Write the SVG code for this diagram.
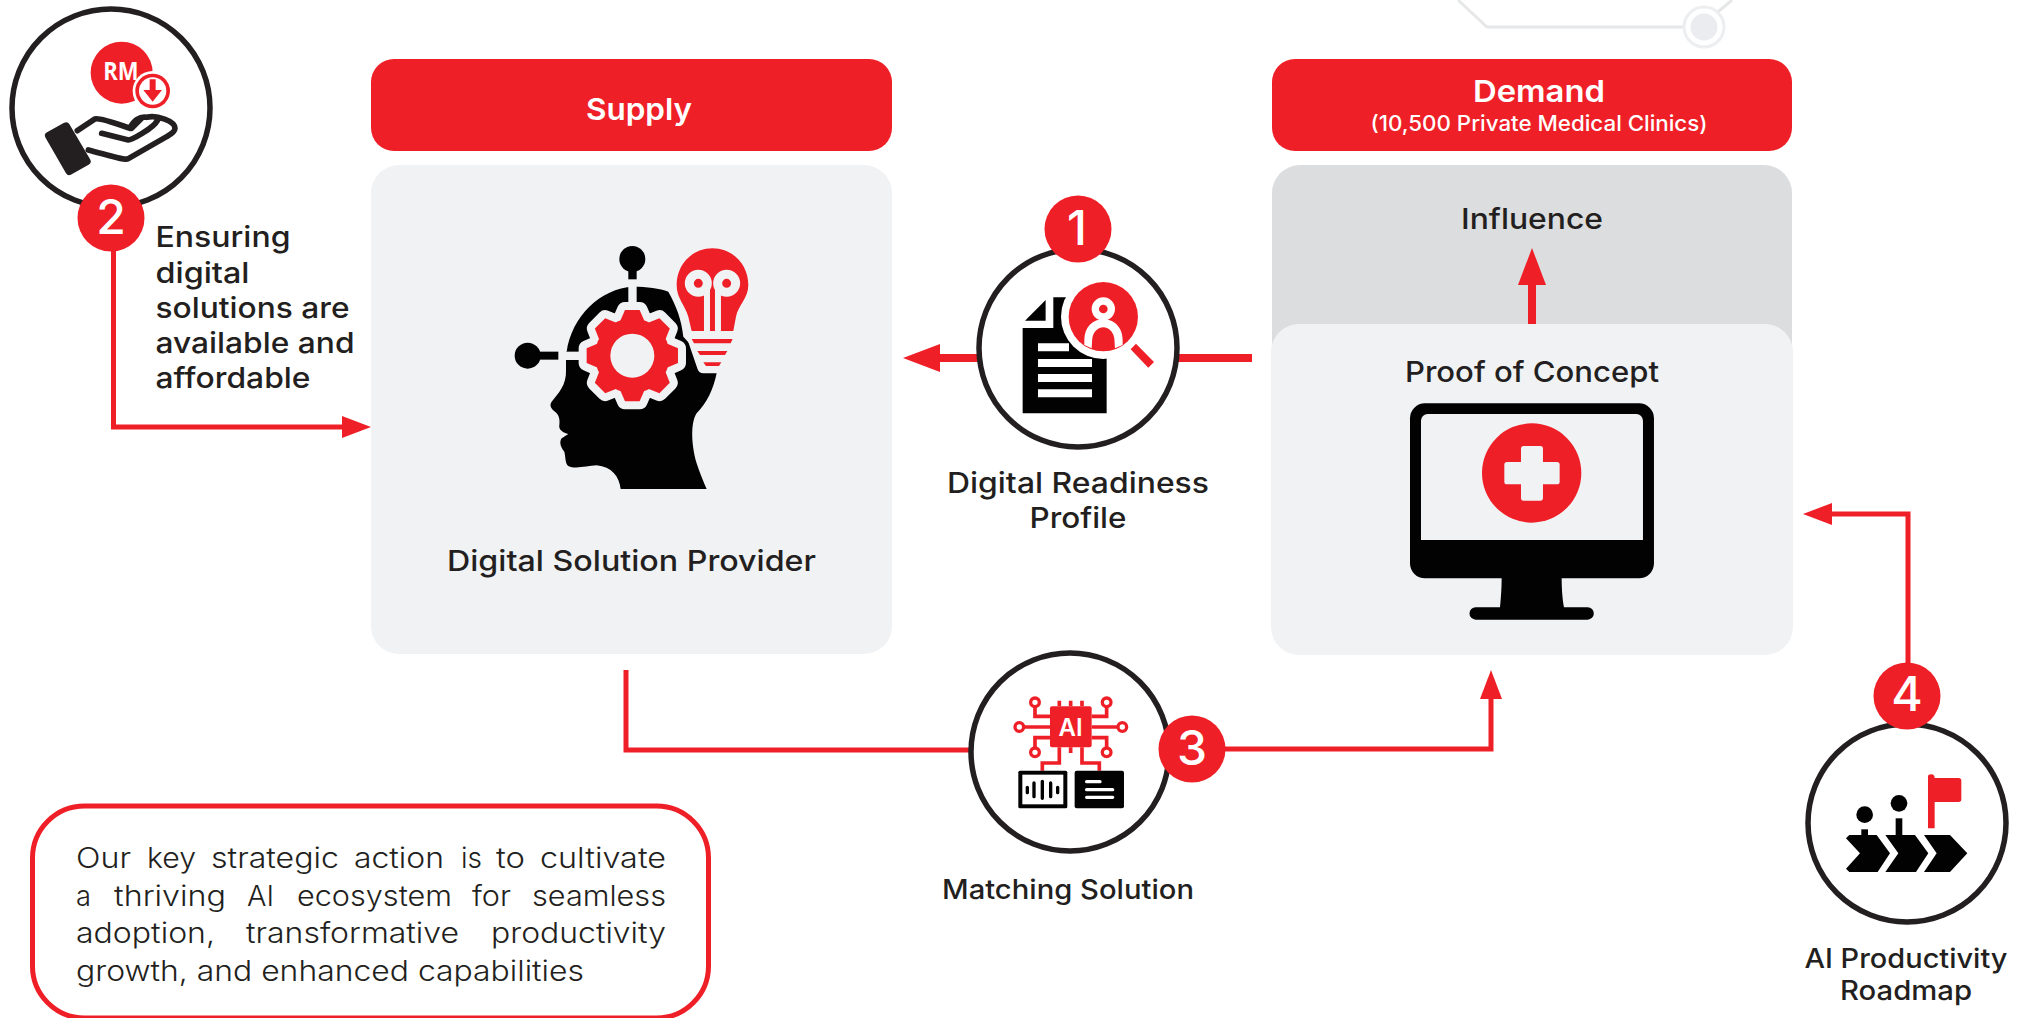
<svg xmlns="http://www.w3.org/2000/svg" xmlns:xlink="http://www.w3.org/1999/xlink" width="2027" height="1018" viewBox="0 0 2027 1018">
<style>
text{font-family:Inter,"Liberation Sans",sans-serif;fill:#231f20;font-weight:500;text-anchor:middle}
.h{fill:#fff;font-weight:600;font-size:30px}
.sub{fill:#fff;font-size:21px;font-weight:500}
.l{font-size:29px}
.m{font-size:27px}
.left{text-anchor:start}
.body{font-weight:300;font-size:28px;text-anchor:start}
.badge{fill:#ef1f27}
.num{fill:#fff;font-size:48px;font-weight:500}
.ring{fill:#fff;stroke:#231f20;stroke-width:5.5}
.r{fill:#ef1f27}.k{fill:#020202}.c{fill:#f1f2f4}.w{fill:#fff}
.conn{fill:none;stroke:#ef1f27;stroke-linejoin:miter}
.deco{fill:none;stroke:#e6e7e9;stroke-width:3}
.cir{fill:none;stroke:#ef1f27;stroke-width:11}
</style>
<defs>
<marker id="ah" markerUnits="userSpaceOnUse" markerWidth="30" markerHeight="24" refX="1" refY="11" orient="auto" viewBox="0 0 30 22"><path d="M0 0L29 11L0 22Z" fill="#ef1f27"/></marker>
<marker id="ahb" markerUnits="userSpaceOnUse" markerWidth="38" markerHeight="28" refX="1" refY="14" orient="auto" viewBox="0 0 38 28"><path d="M0 0L37 14L0 28Z" fill="#ef1f27"/></marker>
<g id="gear"><circle r="112"/><path id="t" d="M-22-137H22L38-100H-38Z"/><use xlink:href="#t" transform="rotate(45)"/><use xlink:href="#t" transform="rotate(90)"/><use xlink:href="#t" transform="rotate(135)"/><use xlink:href="#t" transform="rotate(180)"/><use xlink:href="#t" transform="rotate(225)"/><use xlink:href="#t" transform="rotate(270)"/><use xlink:href="#t" transform="rotate(315)"/></g>
</defs>
<rect width="2027" height="1018" fill="#fff"/>

<g id="decoration">
<path class="deco" d="M1458 0L1487 27H1684M1713 16L1732 0"/>
<circle cx="1704" cy="27" r="20" fill="#fff" stroke="#eceef0" stroke-width="3"/>
<circle cx="1704" cy="27" r="13.500" fill="#eaecef"/>
</g>

<g id="supply-panel">
<rect x="371" y="59" width="521" height="92" rx="23" class="r"/>
<text class="h" x="639" y="120" textLength="106" lengthAdjust="spacingAndGlyphs">Supply</text>
<rect x="371" y="165" width="521" height="489" rx="28" class="c"/>
<text class="l" x="631.500" y="571" textLength="369" lengthAdjust="spacingAndGlyphs">Digital Solution Provider</text>
</g>

<g id="demand-panel">
<rect x="1272" y="59" width="520" height="92" rx="23" class="r"/>
<text class="h" x="1539" y="102" textLength="132" lengthAdjust="spacingAndGlyphs">Demand</text>
<text class="sub" x="1539" y="131" textLength="337" lengthAdjust="spacingAndGlyphs">(10,500 Private Medical Clinics)</text>
<rect x="1272" y="165" width="520" height="300" rx="28" fill="#dcddde"/>
<text class="l" x="1532" y="229" textLength="142" lengthAdjust="spacingAndGlyphs">Influence</text>
<rect x="1271" y="324" width="522" height="331" rx="28" class="c"/>
<text class="l" x="1532" y="382" textLength="254" lengthAdjust="spacingAndGlyphs">Proof of Concept</text>
</g>

<g id="connectors" class="conn">
<path stroke-width="5" marker-end="url(#ah)" d="M113.500 250V427H343"/>
<path stroke-width="8" marker-end="url(#ahb)" d="M1252 358H939"/>
<path stroke-width="8" marker-end="url(#ahb)" d="M1532 324V284"/>
<path stroke-width="5" d="M626 670V750H970"/>
<path stroke-width="5" marker-end="url(#ah)" d="M1225 749H1491V698"/>
<path stroke-width="5" marker-end="url(#ah)" d="M1908 664V514H1831"/>
</g>

<g id="node-provider-icon" transform="translate(500 230) scale(.3333)">
<path class="k" d="M200 365C215 260 300 175 400 170C440 170 480 175 505 185C530 230 545 270 550 320L650 430C640 480 620 520 590 550C570 580 575 650 590 700C600 730 610 755 620 777H362C358 740 335 710 290 706C260 708 225 718 205 708C195 700 197 680 193 665C180 650 178 635 185 625C200 615 205 612 205 612C190 608 175 600 178 585C180 570 178 555 165 545C152 535 148 525 155 515C175 490 200 465 198 420V365Z"/>
<rect class="c" x="385" y="150" width="25" height="95"/>
<rect class="c" x="190" y="365" width="55" height="25"/>
<circle class="k" cx="397" cy="87" r="39"/><rect class="k" x="385" y="110" width="25" height="38"/>
<circle class="k" cx="83" cy="377" r="39"/><rect class="k" x="110" y="365" width="65" height="24"/>
<use xlink:href="#gear" x="397" y="377" class="c" stroke="#f1f2f4" stroke-width="48" stroke-linejoin="round"/>
<use xlink:href="#gear" x="397" y="377" class="r"/>
<circle class="c" cx="397" cy="377" r="66"/>
<path class="c" stroke="#f1f2f4" stroke-width="36" stroke-linejoin="round" d="M637 55C575 55 530 105 530 165C530 205 555 225 565 260L575 310L610 412H665L700 310L708 260C715 225 745 205 745 165C745 105 700 55 637 55Z"/>
<path class="r" d="M637 55C575 55 530 105 530 165C530 205 555 225 565 260L575 303H700L708 260C715 225 745 205 745 165C745 105 700 55 637 55Z"/>
<circle class="r" cx="595" cy="160" r="27" stroke="#f1f2f4" stroke-width="27"/>
<circle class="r" cx="680" cy="160" r="27" stroke="#f1f2f4" stroke-width="27"/>
<rect class="c" x="612" y="170" width="18" height="133"/><rect class="c" x="645" y="170" width="18" height="133"/>
<path class="r" d="M575 327H698L692 340H582ZM592 363H682L675 375H600ZM610 397H664L657 408H618Z"/>
</g>

<g id="node-monitor-icon" transform="translate(1380 390) scale(.3333)">
<rect class="k" x="90" y="40" width="732" height="525" rx="45"/>
<path class="c" d="M143 72H769A20 20 0 0 1 789 92V450H123V92A20 20 0 0 1 143 72Z"/>
<path class="k" d="M365 560C365 600 362 630 360 652H287A18.500 18.500 0 0 0 287 689H623A18.500 18.500 0 0 0 623 652H552C548 630 545 600 545 560Z"/>
<circle class="r" cx="455" cy="249" r="149"/>
<path class="c" d="M423 216V176Q423 168 431 168H481Q489 168 489 176V216H531Q539 216 539 224V275Q539 283 531 283H489V324Q489 332 481 332H431Q423 332 423 324V283H381Q373 283 373 275V224Q373 216 381 216Z"/>
</g>

<g id="node-2">
<circle class="ring" cx="111" cy="108" r="99"/>
<g transform="scale(.3333)">
<circle class="r" cx="365" cy="218" r="93"/>
<text x="363" y="240" style="fill:#fff;font-family:'Open Sans','Liberation Sans',sans-serif;font-weight:700;font-size:74px" textLength="106" lengthAdjust="spacingAndGlyphs">RM</text>
<circle class="w" cx="458" cy="273" r="60"/><circle class="r" cx="458" cy="273" r="52"/><circle class="w" cx="458" cy="273" r="41"/>
<path fill="#ef1f27" d="M449 238H467V270H486L458 305L430 270H449Z"/>
<path fill="#231f20" stroke="#231f20" stroke-width="24" stroke-linejoin="round" d="M147 407L198 379L260 484L208 513Z"/>
<path fill="none" stroke="#231f20" stroke-width="17" stroke-linejoin="round" stroke-linecap="round" d="M232 392L285 357C300 352 360 375 390 385C400 362 420 348 440 352C470 345 525 362 525 385C525 395 515 402 500 410L385 476C375 482 340 470 265 450M305 400L385 420C395 420 460 385 472 362M395 385L425 355"/>
</g>
<circle class="badge" cx="111" cy="218" r="33.500"/>
<text class="num" x="111" y="234">2</text>
<g>
<text class="l left" x="155.500" y="247" textLength="135" lengthAdjust="spacingAndGlyphs">Ensuring</text>
<text class="l left" x="155.500" y="283" textLength="94" lengthAdjust="spacingAndGlyphs">digital</text>
<text class="l left" x="155.500" y="318" textLength="194" lengthAdjust="spacingAndGlyphs">solutions are</text>
<text class="l left" x="155.500" y="353" textLength="199" lengthAdjust="spacingAndGlyphs">available and</text>
<text class="l left" x="155.500" y="388" textLength="155" lengthAdjust="spacingAndGlyphs">affordable</text>
</g>
</g>

<g id="node-1">
<circle class="ring" cx="1078" cy="348" r="99"/>
<g transform="translate(900 180) scale(.3333)">
<path class="k" d="M368 444H460V352H620V700H368Z"/>
<path class="k" d="M437 360V422H375Z"/>
<circle class="w" cx="610" cy="410" r="127"/>
<path class="w" d="M622 352H500V280H640V400H622Z"/>
<path class="w" d="M414 490h93v24h-93zM414 537h162v24h-162zM414 582h162v24h-162zM414 628h162v24h-162z"/>
<circle class="r" cx="610" cy="410" r="104"/>
<path class="r" d="M708 491L762 546L745 563L692 508Z"/>
<circle class="r" cx="610" cy="387" r="24" stroke="#fff" stroke-width="22"/>
<path class="w" d="M553 495V480C553 440 580 418 610 418C640 418 668 440 668 480V495L645 505L643 475C640 455 625 442 610 442C595 442 580 455 577 475L575 505Z"/>
</g>
<circle class="badge" cx="1078" cy="229" r="33.500"/>
<text class="num" x="1077" y="245">1</text>
<text class="l" x="1078" y="493" textLength="262" lengthAdjust="spacingAndGlyphs">Digital Readiness</text>
<text class="l" x="1078" y="528" textLength="97" lengthAdjust="spacingAndGlyphs">Profile</text>
</g>

<g id="node-3">
<circle class="ring" cx="1070" cy="752" r="99"/>
<g transform="translate(950 639) scale(.3333)">
<path class="cir" d="M255 200V232H300M208 264H300M255 328V296H300M470 200V232H425M517 264H425M470 328V296H425M328 325V372H277V395M396 325V372H448V395M328 185V202M362 185V202M396 185V202M362 325V342"/>
<circle cx="255" cy="190" r="13" fill="#fff" stroke="#ef1f27" stroke-width="10"/>
<circle cx="208" cy="264" r="13" fill="#fff" stroke="#ef1f27" stroke-width="10"/>
<circle cx="255" cy="340" r="13" fill="#fff" stroke="#ef1f27" stroke-width="10"/>
<circle cx="470" cy="190" r="13" fill="#fff" stroke="#ef1f27" stroke-width="10"/>
<circle cx="517" cy="264" r="13" fill="#fff" stroke="#ef1f27" stroke-width="10"/>
<circle cx="470" cy="340" r="13" fill="#fff" stroke="#ef1f27" stroke-width="10"/>
<rect class="r" x="300" y="202" width="125" height="123" rx="6"/>
<text x="362" y="290" style="fill:#fff;font-size:72px;font-weight:600">AI</text>
<rect class="k" x="205" y="395" width="147" height="113" rx="5"/>
<rect class="w" x="217" y="407" width="123" height="89"/>
<path fill="none" stroke="#020202" stroke-width="10" stroke-linecap="round" d="M232 445V461M252 432V473M277 427V478M302 432V473M323 445V461"/>
<rect class="k" x="374" y="395" width="148" height="113" rx="6"/>
<path fill="none" stroke="#fff" stroke-width="10" stroke-linecap="round" d="M410 428H450M410 452H488M410 475H488"/>
</g>
<circle class="badge" cx="1192" cy="749" r="33.500"/>
<text class="num" x="1192" y="765">3</text>
<text class="m" x="1068" y="899" textLength="252" lengthAdjust="spacingAndGlyphs">Matching Solution</text>
</g>

<g id="node-4">
<circle class="ring" cx="1907" cy="823" r="99"/>
<g transform="translate(1780 650) scale(.3333)">
<circle class="k" cx="254" cy="494" r="25"/><circle class="k" cx="357" cy="460" r="25"/>
<rect class="k" x="244" y="538" width="20" height="20"/><rect class="k" x="347" y="505" width="20" height="53"/>
<path class="r" d="M444 380Q444 373 454 373Q464 373 464 384H536Q544 384 544 392V448Q544 456 536 456H464V535H444Z"/>
<path class="k" d="M198 565L208 555H290L330 610L293 666H208L198 656L240 610ZM316 555H405L445 610L408 666H316L355 610ZM432 555H510L562 610L510 666H432L470 610Z"/>
</g>
<circle class="badge" cx="1907" cy="696" r="33.500"/>
<text class="num" x="1907" y="711">4</text>
<text class="m" x="1906" y="968" textLength="203" lengthAdjust="spacingAndGlyphs">AI Productivity</text>
<text class="m" x="1906" y="1000" textLength="132" lengthAdjust="spacingAndGlyphs">Roadmap</text>
</g>

<g id="strategy-note">
<rect x="32.500" y="806" width="676" height="212" rx="52" fill="#fff" stroke="#ef1f27" stroke-width="5"/>
<text class="body"><tspan x="76" y="868" textLength="55" lengthAdjust="spacingAndGlyphs">Our</tspan> <tspan x="147" y="868" textLength="49" lengthAdjust="spacingAndGlyphs">key</tspan> <tspan x="211" y="868" textLength="128" lengthAdjust="spacingAndGlyphs">strategic</tspan> <tspan x="354" y="868" textLength="90" lengthAdjust="spacingAndGlyphs">action</tspan> <tspan x="461" y="868" textLength="21" lengthAdjust="spacingAndGlyphs">is</tspan> <tspan x="496" y="868" textLength="29" lengthAdjust="spacingAndGlyphs">to</tspan> <tspan x="540" y="868" textLength="126" lengthAdjust="spacingAndGlyphs">cultivate</tspan></text>
<text class="body"><tspan x="76" y="906" textLength="15" lengthAdjust="spacingAndGlyphs">a</tspan> <tspan x="114" y="906" textLength="112" lengthAdjust="spacingAndGlyphs">thriving</tspan> <tspan x="247" y="906" textLength="27" lengthAdjust="spacingAndGlyphs">AI</tspan> <tspan x="297" y="906" textLength="155" lengthAdjust="spacingAndGlyphs">ecosystem</tspan> <tspan x="472" y="906" textLength="39" lengthAdjust="spacingAndGlyphs">for</tspan> <tspan x="532" y="906" textLength="134" lengthAdjust="spacingAndGlyphs">seamless</tspan></text>
<text class="body"><tspan x="76" y="943" textLength="139" lengthAdjust="spacingAndGlyphs">adoption,</tspan> <tspan x="246" y="943" textLength="213" lengthAdjust="spacingAndGlyphs">transformative</tspan> <tspan x="491" y="943" textLength="175" lengthAdjust="spacingAndGlyphs">productivity</tspan></text>
<text class="body" x="76" y="981" textLength="508" lengthAdjust="spacingAndGlyphs">growth, and enhanced capabilities</text>
</g>
</svg>
